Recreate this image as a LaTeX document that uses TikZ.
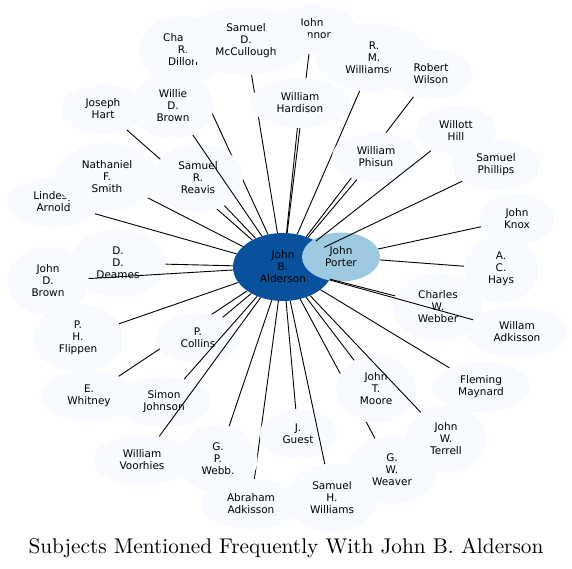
\documentclass[tikz,border=0pt]{standalone}
\usepackage{fontspec}
\newfontfamily\nodefont{DejaVu Sans}
\newfontfamily\titlefont[Extension=.otf]{lmroman10-regular}
\usetikzlibrary{shapes.geometric}
\definecolor{leaf}{HTML}{F7FBFF}
\definecolor{hub}{HTML}{08519C}
\definecolor{porterc}{HTML}{9ECAE1}
\tikzset{
  nd/.style={ellipse, fill=leaf, draw=none, inner sep=0pt, align=center,
    font=\nodefont\fontsize{10.5}{12}\selectfont, text=black},
  sz/.style 2 args={minimum width=#1pt, minimum height=#2pt},
  ed/.style={line width=0.9pt, draw=black},
  ttl/.style={font=\titlefont\fontsize{21.3}{25}\selectfont, anchor=base, inner sep=0pt}
}
\begin{document}
\begin{tikzpicture}[x=1pt,y=-1pt]
\useasboundingbox (0,0) rectangle (572,569);
\node[nd, fill=hub, sz={100}{68}] (ald) at (283,267) {John\\B.\\Alderson};
\node[nd, fill=porterc, sz={78}{49}] (por) at (341,257) {John\\Porter};
% top
\node[nd, sz={88}{68}] (dil) at (183,50) {Charles\\R.\\Dillon};
\draw[ed] (ald) -- (dil);
\node[nd, sz={88}{50}] (con) at (312,29) {John\\Connor};
\draw[ed] (ald) -- (con);
\node[nd, sz={126}{68}] (mcc) at (246,41) {Samuel\\D.\\McCullough};
\draw[ed] (ald) -- (mcc);
\node[nd, sz={100}{50}] (har) at (300,103) {William\\Hardison};
\draw[ed] (ald) -- (har);
\node[nd, sz={116}{68}] (rmw) at (374,58) {R.\\M.\\Williamson};
\draw[ed] (ald) -- (rmw);
\node[nd, sz={82}{50}] (wil) at (431,74) {Robert\\Wilson};
\draw[ed] (ald) -- (wil);
\node[nd, sz={88}{50}] (phi) at (376,157) {William\\Phisun};
\draw[ed] (ald) -- (phi);
\node[nd, sz={80}{50}] (hil) at (456,131) {Willott\\Hill};
\draw[ed] (ald) -- (hil);
\node[nd, sz={88}{50}] (phl) at (496,165) {Samuel\\Phillips};
\draw[ed] (ald) -- (phl);
% right
\node[nd, sz={75}{50}] (kno) at (517,219) {John\\Knox};
\draw[ed] (por) -- (kno);
\node[nd, sz={74}{68}] (hay) at (501,269) {A.\\C.\\Hays};
\draw[ed] (por) -- (hay);
\node[nd, sz={90}{68}] (web) at (438,307) {Charles\\W.\\Webber};
\draw[ed] (ald) -- (web);
\node[nd, sz={100}{50}] (wad) at (517,332) {Willam\\Adkisson};
\draw[ed] (ald) -- (wad);
\node[nd, sz={98}{50}] (may) at (481,387) {Fleming\\Maynard};
\draw[ed] (ald) -- (may);
% bottom
\node[nd, sz={90}{68}] (wea) at (392,470) {G.\\W.\\Weaver};
\draw[ed] (ald) -- (wea);
\node[nd, sz={80}{68}] (moo) at (376,389) {John\\T.\\Moore};
\draw[ed] (ald) -- (moo);
\node[nd, sz={80}{68}] (ter) at (446,439) {John\\W.\\Terrell};
\draw[ed] (ald) -- (ter);
\node[nd, sz={100}{50}] (aad) at (251,504) {Abraham\\Adkisson};
\draw[ed] (ald) -- (aad);
\node[nd, sz={77}{50}] (gue) at (298,434) {J.\\Guest};
\draw[ed] (ald) -- (gue);
\node[nd, sz={92}{68}] (shw) at (332,498) {Samuel\\H.\\Williams};
\draw[ed] (ald) -- (shw);
\node[nd, sz={79}{68}] (wbb) at (218,459) {G.\\P.\\Webb.};
\draw[ed] (ald) -- (wbb);
% left
\node[nd, sz={95}{50}] (whi) at (89,396) {E.\\Whitney};
\draw[ed] (ald) -- (whi);
\node[nd, sz={84}{50}] (col) at (198,338) {P.\\Collins};
\draw[ed] (ald) -- (col);
\node[nd, sz={95}{50}] (sjo) at (164,402) {Simon\\Johnson};
\draw[ed] (ald) -- (sjo);
\node[nd, sz={98}{50}] (voo) at (142,460) {William\\Voorhies};
\draw[ed] (ald) -- (voo);
\node[nd, sz={90}{68}] (fli) at (78,338) {P.\\H.\\Flippen};
\draw[ed] (ald) -- (fli);
\node[nd, sz={95}{68}] (dea) at (118,263) {D.\\D.\\Deames};
\draw[ed] (ald) -- (dea);
\node[nd, sz={81}{68}] (jdb) at (48,281) {John\\D.\\Brown};
\draw[ed] (ald) -- (jdb);
\node[nd, sz={84}{50}] (har2) at (103,109) {Joseph\\Hart};
\draw[ed] (ald) -- (har2);
\node[nd, sz={90}{68}] (rea) at (198,178) {Samuel\\R.\\Reavis};
\draw[ed] (ald) -- (rea);
\node[nd, sz={93}{50}] (arn) at (53.5,202) {Lindesy\\Arnold};
\draw[ed] (ald) -- (arn);
\node[nd, sz={103}{68}] (smi) at (107,177) {Nathaniel\\F.\\Smith};
\draw[ed] (ald) -- (smi);
\node[nd, sz={81}{66}] (wdb) at (173,106) {Willie\\D.\\Brown};
\draw[ed] (ald) -- (wdb);
% title
\node[ttl] (title) at (286,553) {Subjects Mentioned Frequently With John B. Alderson};
\end{tikzpicture}
\end{document}
